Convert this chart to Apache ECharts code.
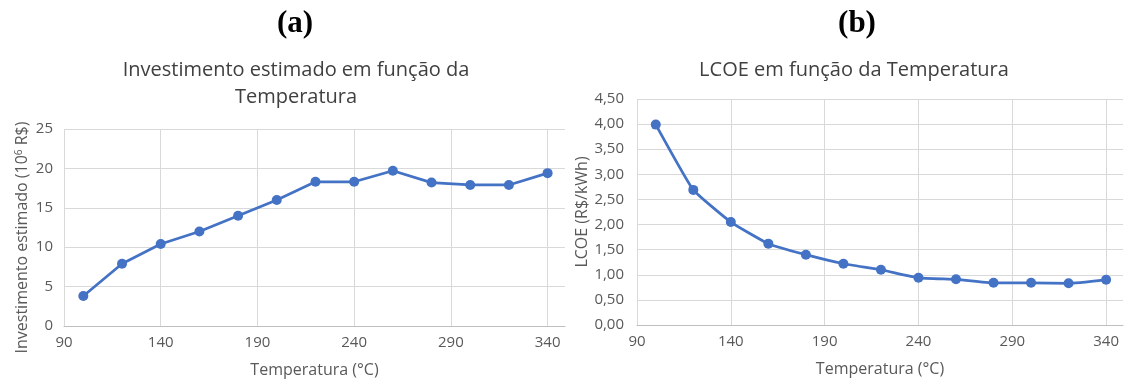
<!DOCTYPE html>
<html>
<head>
<meta charset="utf-8">
<script src="https://cdn.jsdelivr.net/npm/echarts@6/dist/echarts.min.js"></script>
<style>
  html, body { margin: 0; padding: 0; background: #ffffff; }
  #chart { width: 1126px; height: 385px; }
</style>
</head>
<body>
<div id="chart"></div>
<script>
// Temperatures (°C) shared by both panels
const temperatures = [100, 120, 140, 160, 180, 200, 220, 240, 260, 280, 300, 320, 340];
// (a) Estimated investment, 10^6 R$
const investment = [3.8, 7.9, 10.4, 12.0, 14.0, 16.0, 18.3, 18.3, 19.7, 18.2, 17.9, 17.9, 19.4];
// (b) LCOE, R$/kWh
const lcoe = [3.99, 2.69, 2.05, 1.62, 1.40, 1.22, 1.10, 0.94, 0.91, 0.84, 0.84, 0.83, 0.90];

const xTicks = [90, 140, 190, 240, 290, 340];

const FONT = '"Open Sans", "Noto Sans", sans-serif';
const GREY_TEXT = '#595959';
const BLUE = '#4472C4';

const pairs = (ys) => temperatures.map((t, i) => [t, ys[i]]);

function xAxisFor(gridIndex) {
  return {
    gridIndex,
    type: 'value',
    min: 90,
    max: 349,
    interval: 50,
    name: 'Temperatura (°C)',
    nameLocation: 'middle',
    nameGap: 36,
    nameTextStyle: { fontFamily: FONT, fontSize: 16, color: GREY_TEXT },
    axisLine: { show: true, lineStyle: { color: '#BFBFBF', width: 1 } },
    axisTick: { show: false },
    axisLabel: {
      fontFamily: FONT, fontSize: 15, color: GREY_TEXT, margin: 9,
      showMaxLabel: false,
      formatter: (v) => (xTicks.includes(v) ? String(v) : '')
    },
    splitLine: { show: true, showMaxLine: false, lineStyle: { color: '#D9D9D9', width: 1 } }
  };
}

const option = {
  backgroundColor: '#ffffff',
  animation: false,
  title: [
    { text: '(a)', left: 290, top: 3, textAlign: 'center',
      textStyle: { fontFamily: '"Liberation Serif", serif', fontWeight: 'bold', fontSize: 31, color: '#000' } },
    { text: '(b)', left: 852, top: 3, textAlign: 'center',
      textStyle: { fontFamily: '"Liberation Serif", serif', fontWeight: 'bold', fontSize: 31, color: '#000' } },
    { text: 'Investimento estimado em função da\nTemperatura', left: 291, top: 52, textAlign: 'center',
      textStyle: { fontFamily: FONT, fontWeight: 'normal', fontSize: 20, lineHeight: 27, color: '#404040' } },
    { text: 'LCOE em função da Temperatura', left: 849, top: 52, textAlign: 'center',
      textStyle: { fontFamily: FONT, fontWeight: 'normal', fontSize: 20, lineHeight: 27, color: '#404040' } }
  ],
  grid: [
    { left: 64, top: 129, width: 501, height: 197 },
    { left: 637, top: 99, width: 486, height: 226 }
  ],
  xAxis: [xAxisFor(0), xAxisFor(1)],
  yAxis: [
    {
      gridIndex: 0, type: 'value', min: 0, max: 25, interval: 5,
      name: '{t|Investimento estimado (10}{s|6}{t| R$)}',
      nameLocation: 'middle', nameGap: 33,
      nameTextStyle: {
        padding: [0, 20, 0, 0],
        rich: {
          t: { fontFamily: FONT, fontSize: 16, color: GREY_TEXT },
          s: { fontFamily: FONT, fontSize: 10, color: GREY_TEXT, verticalAlign: 'top', padding: [0, 0, 7, 0] }
        }
      },
      axisLine: { show: false },
      axisTick: { show: false },
      axisLabel: { fontFamily: FONT, fontSize: 15, color: GREY_TEXT, margin: 11 },
      splitLine: { lineStyle: { color: '#D9D9D9', width: 1 } }
    },
    {
      gridIndex: 1, type: 'value', min: 0, max: 4.5, interval: 0.5,
      name: 'LCOE (R$/kWh)',
      nameLocation: 'middle', nameGap: 46,
      nameTextStyle: { fontFamily: FONT, fontSize: 16, color: GREY_TEXT },
      axisLine: { show: false },
      axisTick: { show: false },
      axisLabel: {
        fontFamily: FONT, fontSize: 15, color: GREY_TEXT, margin: 13,
        formatter: (v) => v.toFixed(2).replace('.', ',')
      },
      splitLine: { lineStyle: { color: '#D9D9D9', width: 1 } }
    }
  ],
  series: [
    {
      type: 'line', xAxisIndex: 0, yAxisIndex: 0,
      data: pairs(investment),
      symbol: 'circle', symbolSize: 10,
      lineStyle: { color: BLUE, width: 2.75 },
      itemStyle: { color: BLUE }
    },
    {
      type: 'line', xAxisIndex: 1, yAxisIndex: 1,
      data: pairs(lcoe),
      smooth: 0.12,
      symbol: 'circle', symbolSize: 10,
      lineStyle: { color: BLUE, width: 2.75 },
      itemStyle: { color: BLUE }
    }
  ]
};

const chart = echarts.init(document.getElementById('chart'), null, { renderer: 'canvas' });
chart.setOption(option);
</script>
</body>
</html>
